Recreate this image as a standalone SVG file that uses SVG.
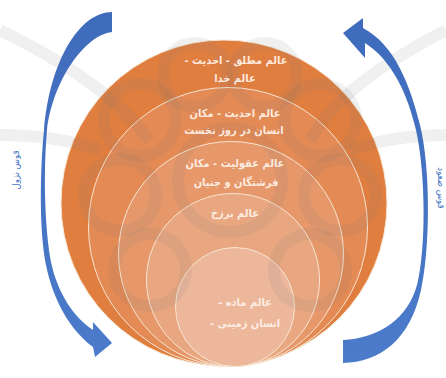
<svg xmlns="http://www.w3.org/2000/svg" width="446" height="378" viewBox="0 0 446 378">
<defs>
<style>
.ring{stroke:#F7E6D2;stroke-width:1}
.lbl{font-family:"DejaVu Sans Condensed","DejaVu Sans",sans-serif;font-stretch:condensed;font-size:11px;font-weight:bold;fill:#FFF4EC;fill-opacity:0.92;text-anchor:middle}
.side{font-family:"DejaVu Sans Condensed","DejaVu Sans",sans-serif;font-size:9.5px;fill:#4A76C6;text-anchor:middle}
.arrow{fill:url(#blue)}
.wm{fill:none;stroke:#7a7a7a;stroke-opacity:0.11;stroke-width:12}
</style>
<linearGradient id="blue" x1="0" y1="0" x2="0" y2="1">
<stop offset="0" stop-color="#3F6BBC"/>
<stop offset="1" stop-color="#4C7BCB"/>
</linearGradient>
</defs>
<rect width="446" height="378" fill="#FFFFFF"/>
<g id="circles">
<g id="world-1"><circle class="ring" cx="224" cy="203" r="163" fill="#E07E40"/></g>
<g id="world-2"><circle class="ring" cx="228" cy="227" r="139.5" fill="#E38A55"/></g>
<g id="world-3"><circle class="ring" cx="231" cy="254" r="112.5" fill="#E6986B"/></g>
<g id="world-4"><circle class="ring" cx="233" cy="280" r="86.5" fill="#E9A781"/></g>
<g id="world-5"><circle class="ring" cx="235" cy="307" r="59.5" fill="#EDB79B"/></g>
</g>
<g id="watermark">
<circle class="wm" cx="195" cy="75" r="32"/>
<circle class="wm" cx="265" cy="75" r="32"/>
<circle class="wm" cx="140" cy="120" r="36"/>
<circle class="wm" cx="320" cy="120" r="36"/>
<circle class="wm" cx="120" cy="195" r="36"/>
<circle class="wm" cx="340" cy="195" r="36"/>
<circle class="wm" cx="150" cy="270" r="36"/>
<circle class="wm" cx="310" cy="270" r="36"/>
<circle class="wm" cx="230" cy="180" r="52"/>
<path class="wm" d="M0,30 C60,60 110,90 150,140 M446,30 C390,60 340,90 310,140 M0,135 C40,135 70,140 100,150 M446,135 C410,135 380,140 350,150"/>
</g>
<g id="labels">
<text class="lbl" x="236" y="64" direction="rtl">عالم مطلق - احدیت -</text>
<text class="lbl" x="235" y="82" direction="rtl">عالم خدا</text>
<text class="lbl" x="235" y="117" direction="rtl">عالم احدیت - مکان</text>
<text class="lbl" x="234" y="134" direction="rtl">انسان در روز نخست</text>
<text class="lbl" x="235" y="167" direction="rtl">عالم عقولیت - مکان</text>
<text class="lbl" x="236" y="186" direction="rtl">فرشتگان و جنیان</text>
<text class="lbl" x="235" y="217" direction="rtl">عالم برزخ</text>
<text class="lbl" x="245" y="306" direction="rtl">عالم ماده -</text>
<text class="lbl" x="245" y="327" direction="rtl">انسان زمینی -</text>
</g>
<g id="connectors">
<path id="arc-descent" class="arrow" d="M112,12 C80,12 50,60 44,130 C40,170 39,230 46,265 C53,300 70,330 93,347 L95,357 L112,343 L93,322 L93,330 C75,318 58,295 51,262 C45,230 43,175 47,130 C53,80 85,35 112,32 Z"/>
<path id="arc-ascent" class="arrow" d="M343,363 C380,362 410,340 421,290 C430,250 431,170 420,125 C410,85 395,45 363,28 L363,18 L343,33 L365,58 L365,43 C392,60 408,95 416,130 C426,175 426,250 417,285 C408,318 380,338 343,340 Z"/>
</g>
<g id="side-labels">
<text class="side" x="19" y="170" transform="rotate(-90 19 170)" direction="rtl">قوس نزول</text>
<text class="side" x="438" y="188" transform="rotate(90 438 188)" direction="rtl">قوس صعود</text>
</g>
</svg>
